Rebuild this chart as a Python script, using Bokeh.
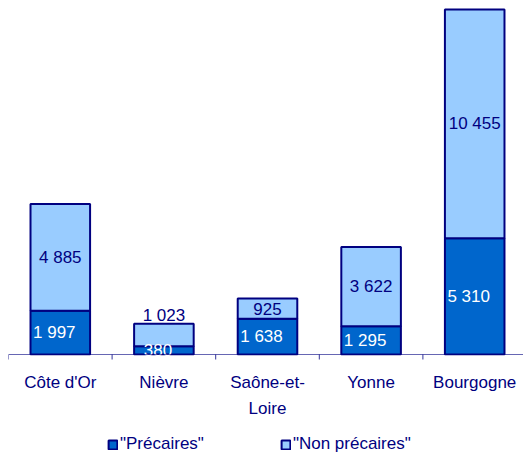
from bokeh.plotting import figure
from bokeh.models import ColumnDataSource, Legend, LegendItem, Range1d
from bokeh.core.properties import value
from bokeh.embed import file_html
from bokeh.resources import INLINE

# ---- data ----
categories = ["Côte d'Or", "Nièvre", "Saône-et-Loire", "Yonne", "Bourgogne"]
axis_labels = ["Côte d'Or", "Nièvre", "Saône-et-\nLoire", "Yonne", "Bourgogne"]
precaires = [1997, 380, 1638, 1295, 5310]
non_precaires = [4885, 1023, 925, 3622, 10455]
series_names = ['"Précaires"', '"Non précaires"']

# ---- styles ----
DARK = "#0066CC"
LIGHT = "#99CCFF"
NAVY = "#000080"
FONT = "Liberation Sans"
FS = "17px"

W, H = 523, 457
LEFT = 8
AXIS_Y_PX = 354                      # screen row of the category axis
Y_MAX = 16180
upp = Y_MAX / AXIS_Y_PX              # data units per pixel
Y_MIN = -(H - AXIS_Y_PX) * upp
N = len(categories)

xs = [i + 0.5 for i in range(N)]
totals = [a + b for a, b in zip(precaires, non_precaires)]


def fmt(v):
    return f"{v:,}".replace(",", " ")


src = ColumnDataSource(dict(x=xs, prec=precaires, nonp=non_precaires, total=totals))

p = figure(width=W, height=H, output_backend="svg", toolbar_location=None,
           x_range=Range1d(0, (W - LEFT) / 103.6), y_range=Range1d(Y_MIN, Y_MAX),
           x_axis_location=None, y_axis_location=None,
           min_border_left=LEFT, min_border_right=0, min_border_top=0,
           min_border_bottom=0)
p.outline_line_color = None
p.xgrid.visible = False
p.ygrid.visible = False
p.background_fill_color = "white"
p.border_fill_color = "white"

BW = 0.575
r1 = p.vbar(x="x", bottom=0, top="prec", width=BW, source=src,
            fill_color=DARK, line_color=NAVY, line_width=2)
r2 = p.vbar(x="x", bottom="prec", top="total", width=BW, source=src,
            fill_color=LIGHT, line_color=NAVY, line_width=2)

# value labels - dark segment (white text)
dark_lab = ColumnDataSource(dict(x=xs, y=[v / 2 for v in precaires],
                                 t=[fmt(v) for v in precaires]))
p.text(x="x", y="y", text="t", source=dark_lab, text_color="white",
       text_align="center", text_baseline="middle", x_offset=-6,
       text_font=value(FONT), text_font_size=FS)

# white cover below the axis (the dark-segment label of a tiny bar is cut by the axis)
p.quad(left=0, right=N, bottom=Y_MIN, top=-1 * upp, fill_color="white", line_color=None)

# value labels - light segment (navy text); above the bar when the bar is short
ly = []
for a, b in zip(precaires, non_precaires):
    if a < 500:
        ly.append(a + b + 8.5 * upp)
    else:
        ly.append(a + b / 2)
light_lab = ColumnDataSource(dict(x=xs, y=ly, t=[fmt(v) for v in non_precaires]))
p.text(x="x", y="y", text="t", source=light_lab, text_color=NAVY,
       text_align="center", text_baseline="middle",
       text_font=value(FONT), text_font_size=FS)

# category axis: line, boundary ticks, labels
p.segment(x0=[0], x1=[N], y0=[0], y1=[0], line_color=NAVY, line_alpha=0.6,
          line_width=1)
bounds = list(range(N + 1))
p.segment(x0=bounds, x1=bounds, y0=[0] * len(bounds), y1=[-5 * upp] * len(bounds),
          line_color=NAVY, line_alpha=0.8, line_width=1)
cat_src = ColumnDataSource(dict(x=xs, y=[-18 * upp] * N, t=axis_labels))
p.text(x="x", y="y", text="t", source=cat_src, text_color=NAVY,
       text_align="center", text_baseline="top", text_line_height=1.4,
       text_font=value(FONT), text_font_size=FS)

legend = Legend(items=[LegendItem(label=series_names[0], renderers=[r1]),
                       LegendItem(label=series_names[1], renderers=[r2])],
                orientation="horizontal", location=(99, 3),
                glyph_width=11, glyph_height=11, label_standoff=2, spacing=76,
                padding=0, margin=0, border_line_color=None,
                background_fill_alpha=0, label_height=20,
                label_text_font=FONT, label_text_font_size=FS,
                label_text_color=NAVY)
p.add_layout(legend, "center")

open("out.html", "w").write(file_html(p, INLINE))
